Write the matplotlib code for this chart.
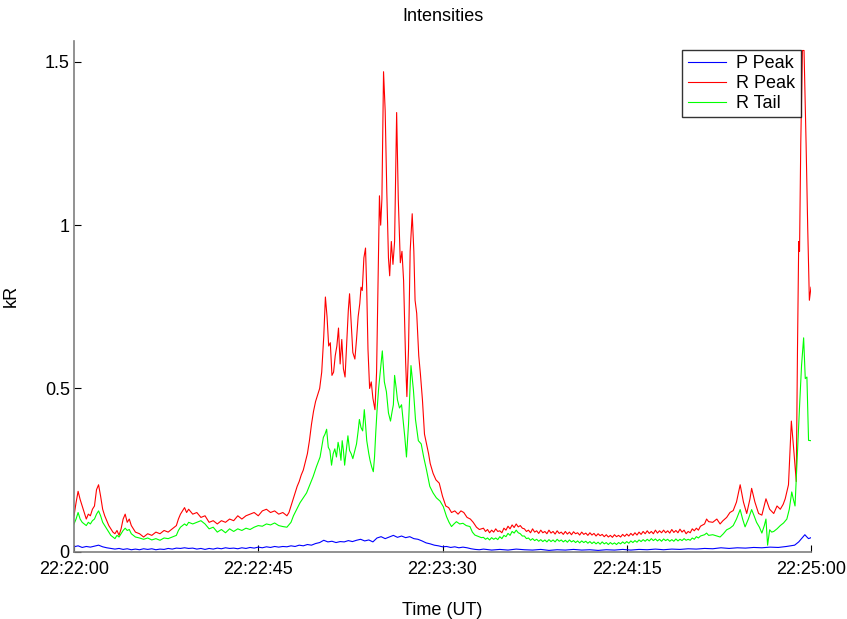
import matplotlib
matplotlib.use("Agg")
import matplotlib.pyplot as plt

plt.rcParams['font.family'] = ['Liberation Sans', 'DejaVu Sans']

# seconds after 22:22:00
red_t = [0, 0.5, 1, 1.5, 2, 2.5, 3, 3.5, 4, 4.5, 5, 5.5, 6, 6.5, 7, 7.5, 8, 8.5, 9, 9.5,
         10, 10.5, 11, 11.5, 12, 12.5, 13, 13.5, 14, 14.5, 15, 16, 17, 18, 19, 20, 21, 22, 23, 24,
         25, 25.5, 26, 27, 27.5, 28, 29, 30, 31, 32, 33, 34, 35, 36, 37, 38, 39, 40, 41, 42,
         43, 44, 45, 46, 47, 48, 49, 50, 51, 52, 52.5, 53, 53.5, 54, 54.5, 55, 55.5, 56, 56.5, 57,
         57.5, 58, 58.5, 59, 59.5, 60, 60.5, 61, 61.4, 61.8, 62.2, 62.6, 63, 63.4, 63.8, 64.2, 64.6, 65, 65.4, 65.8,
         66.2, 66.6, 67, 67.3, 67.7, 68.1, 68.6, 69, 69.4, 69.8, 70.1, 70.4, 70.8, 71.2, 71.5, 71.8, 72.2, 72.6, 73, 73.5,
         73.9, 74.3, 74.6, 74.9, 75.2, 75.6, 76, 76.4, 76.8, 77.1, 77.5, 77.9, 78.3, 78.8, 79.2, 79.7, 80.1, 80.5, 81, 81.3,
         81.7, 82.1, 82.6, 83, 83.3, 83.7, 84.2, 84.6, 85.1, 85.6, 86.1, 86.6, 87, 87.7, 88.4, 89.2, 90, 90.8, 91.5, 92.2,
         93, 93.8, 94.5, 95.2, 96, 96.8, 97.5, 98.3, 99,
         100, 100.5, 101, 101.5, 102, 102.5, 103, 103.5, 104, 104.5, 105, 105.5, 106, 106.5, 107, 107.5, 108, 108.5, 109, 109.5,
         110, 110.5, 111, 111.5, 112, 112.5, 113, 113.5, 114, 114.5, 115, 115.5, 116, 116.5, 117, 117.5, 118, 118.5, 119, 119.5,
         120, 120.5, 121, 121.5, 122, 122.5, 123, 123.5, 124, 124.5, 125, 125.5, 126, 126.5, 127, 127.5, 128, 128.5, 129, 129.5,
         130, 130.5, 131, 131.5, 132, 132.5, 133, 133.5, 134, 134.5, 135, 135.5, 136, 136.5, 137, 137.5, 138, 138.5, 139, 139.5,
         140, 140.5, 141, 141.5, 142, 142.5, 143, 143.5, 144, 144.5, 145, 145.5, 146, 146.5, 147, 147.5, 148, 148.5, 149, 149.5,
         150, 150.5, 151, 151.5, 152, 152.5, 153,
         154, 154.5, 155, 156, 157, 157.8, 158.5, 159.4, 160.2, 161, 161.8, 162.7, 163.5, 164.3, 165.1, 165.5, 166.3,
         167.2, 168, 169, 169.9, 170.9, 171.7, 172.5, 173.2, 173.7, 174.5, 175.2, 175.8, 176.4, 176.7, 177, 177.2, 177.5, 177.9, 178.3, 178.8,
         179.2, 179.6, 180]
red_v = [0.11, 0.15, 0.185, 0.16, 0.14, 0.12, 0.10, 0.115, 0.11, 0.13, 0.14, 0.19, 0.205, 0.17, 0.13, 0.11, 0.095, 0.08, 0.07, 0.06,
         0.055, 0.065, 0.05, 0.07, 0.10, 0.115, 0.09, 0.10, 0.08, 0.07, 0.06, 0.055, 0.045, 0.055, 0.05, 0.06, 0.055, 0.065, 0.06, 0.07,
         0.08, 0.10, 0.115, 0.135, 0.12, 0.13, 0.115, 0.12, 0.105, 0.11, 0.09, 0.095, 0.085, 0.095, 0.09, 0.10, 0.095, 0.11, 0.10, 0.11,
         0.115, 0.12, 0.11, 0.125, 0.13, 0.12, 0.125, 0.115, 0.12, 0.11, 0.12, 0.14, 0.16, 0.18, 0.20, 0.215, 0.235, 0.25, 0.275, 0.30,
         0.34, 0.39, 0.43, 0.46, 0.48, 0.50, 0.55, 0.66, 0.78, 0.72, 0.63, 0.64, 0.54, 0.55, 0.60, 0.63, 0.685, 0.575, 0.65, 0.56,
         0.535, 0.64, 0.74, 0.79, 0.70, 0.61, 0.59, 0.65, 0.72, 0.76, 0.81, 0.80, 0.90, 0.93, 0.80, 0.62, 0.50, 0.52, 0.47, 0.435,
         0.55, 0.85, 1.09, 1.00, 1.08, 1.47, 1.35, 1.10, 0.90, 0.845, 0.95, 0.88, 0.95, 1.345, 1.08, 0.885, 0.92, 0.83, 0.58, 0.475,
         0.62, 0.92, 1.035, 0.92, 0.77, 0.73, 0.60, 0.545, 0.465, 0.36, 0.33, 0.30, 0.27, 0.24, 0.22, 0.21, 0.17, 0.14, 0.135, 0.12,
         0.125, 0.115, 0.125, 0.12, 0.105, 0.10, 0.09, 0.075, 0.068,
         0.072, 0.062, 0.068, 0.058, 0.066, 0.06, 0.07, 0.062, 0.064, 0.058, 0.072, 0.066, 0.078, 0.07, 0.082, 0.074, 0.085, 0.076, 0.08, 0.072,
         0.07, 0.062, 0.066, 0.058, 0.07, 0.06, 0.064, 0.056, 0.066, 0.058, 0.062, 0.055, 0.066, 0.057, 0.062, 0.054, 0.064, 0.056, 0.06, 0.053,
         0.062, 0.054, 0.06, 0.052, 0.061, 0.055, 0.058, 0.051, 0.06, 0.053, 0.057, 0.05, 0.058, 0.051, 0.056, 0.048, 0.055, 0.049, 0.053, 0.046,
         0.052, 0.045, 0.05, 0.044, 0.052, 0.046, 0.05, 0.045, 0.053, 0.047, 0.054, 0.048, 0.056, 0.05, 0.058, 0.051, 0.06, 0.053, 0.062, 0.055,
         0.064, 0.056, 0.062, 0.055, 0.066, 0.057, 0.064, 0.058, 0.066, 0.058, 0.064, 0.057, 0.068, 0.059, 0.065, 0.058, 0.069, 0.06, 0.066, 0.055,
         0.062, 0.058, 0.07, 0.064, 0.072, 0.066, 0.078,
         0.085, 0.10, 0.092, 0.09, 0.10, 0.085, 0.095, 0.105, 0.12, 0.126, 0.152, 0.205, 0.152, 0.117, 0.162, 0.194, 0.152,
         0.117, 0.112, 0.162, 0.13, 0.117, 0.14, 0.13, 0.145, 0.162, 0.205, 0.40, 0.31, 0.215, 0.62, 0.95, 0.92, 1.25, 1.535, 1.535, 1.25,
         0.99, 0.77, 0.81]

green_t = [0, 0.5, 1, 1.5, 2, 2.5, 3, 3.5, 4, 4.5, 5, 5.5, 6, 6.5, 7, 7.5, 8, 8.5, 9, 9.5,
           10, 10.5, 11, 11.5, 12, 12.5, 13, 13.5, 14, 14.5, 15, 16, 17, 18, 19, 20, 21, 22, 23, 24,
           25, 25.5, 26, 27, 27.5, 28, 29, 30, 31, 32, 33, 34, 35, 36, 37, 38, 39, 40, 41, 42,
           43, 44, 45, 46, 47, 48, 49, 50, 51, 52, 53, 53.6, 54.2, 55.2, 56, 56.8, 57.6, 58.4, 59.2, 60.1,
           60.5, 60.9, 61.3, 61.7, 62.1, 62.5, 62.9, 63.3, 63.7, 64.1, 64.5, 64.9, 65.2, 65.5, 65.8, 66.1, 66.5, 66.9, 67.3, 67.7,
           68.1, 68.6, 69, 69.4, 69.7, 70.1, 70.5, 70.9, 71.2, 71.5, 72, 72.3, 72.7, 73.1, 73.4, 73.7, 74, 74.4, 74.8, 75.3,
           75.8, 76.3, 76.8, 77.3, 77.7, 78, 78.3, 78.7, 79, 79.5, 80, 80.4, 80.8, 81.2, 81.7, 82.3, 82.9, 83.4, 84.1, 84.8,
           85.4, 86.1, 86.9, 87.7, 88.5, 89.4, 90.2, 91, 91.6, 92.2, 92.8, 93.4, 94.2, 95, 95.8, 96.7, 97.3, 97.9, 98.9, 99.5,
           100, 100.5, 101, 101.5, 102, 102.5, 103, 103.5, 104, 104.5, 105, 105.5, 106, 106.5, 107, 107.5, 108, 108.5, 109, 109.5,
           110, 110.5, 111, 111.5, 112, 112.5, 113, 113.5, 114, 114.5, 115, 115.5, 116, 116.5, 117, 117.5, 118, 118.5, 119, 119.5,
           120, 120.5, 121, 121.5, 122, 122.5, 123, 123.5, 124, 124.5, 125, 125.5, 126, 126.5, 127, 127.5, 128, 128.5, 129, 129.5,
           130, 130.5, 131, 131.5, 132, 132.5, 133, 133.5, 134, 134.5, 135, 135.5, 136, 136.5, 137, 137.5, 138, 138.5, 139, 139.5,
           140, 140.5, 141, 141.5, 142, 142.5, 143, 143.5, 144, 144.5, 145, 145.5, 146, 146.5, 147, 147.5, 148, 148.5, 149, 149.5,
           150, 150.5, 151, 151.5, 152, 152.5, 153,
           154, 154.5, 155, 156, 157, 157.8, 158.6,
           159.4, 160.2, 161, 161.8, 162.7, 163.3, 163.9, 164.7, 165.5, 166.1, 166.7, 167.4, 168, 168.6, 169, 169.4, 169.9, 170.4, 170.9, 171.7,
           172.5, 173.3, 174.1, 174.7, 175.3, 175.7, 176.1, 176.7, 177.2, 177.7, 178.2, 178.6, 179, 179.4, 180]
green_v = [0.085, 0.10, 0.12, 0.10, 0.09, 0.085, 0.08, 0.09, 0.085, 0.095, 0.10, 0.115, 0.125, 0.11, 0.09, 0.08, 0.07, 0.06, 0.05, 0.045,
           0.04, 0.05, 0.045, 0.055, 0.065, 0.072, 0.065, 0.068, 0.055, 0.05, 0.045, 0.042, 0.038, 0.042, 0.036, 0.04, 0.035, 0.042, 0.04, 0.045,
           0.05, 0.065, 0.075, 0.085, 0.08, 0.09, 0.085, 0.09, 0.095, 0.085, 0.07, 0.075, 0.06, 0.068, 0.058, 0.07, 0.062, 0.07, 0.065, 0.072,
           0.068, 0.075, 0.08, 0.078, 0.085, 0.082, 0.088, 0.08, 0.077, 0.075, 0.09, 0.11, 0.125, 0.15, 0.165, 0.18, 0.205, 0.23, 0.26, 0.29,
           0.32, 0.35, 0.36, 0.375, 0.32, 0.31, 0.265, 0.30, 0.315, 0.29, 0.335, 0.31, 0.28, 0.34, 0.31, 0.265, 0.31, 0.355, 0.31, 0.30,
           0.285, 0.31, 0.33, 0.37, 0.405, 0.38, 0.37, 0.435, 0.39, 0.34, 0.30, 0.28, 0.26, 0.245, 0.29, 0.365, 0.43, 0.50, 0.55, 0.615,
           0.52, 0.49, 0.425, 0.40, 0.43, 0.45, 0.54, 0.50, 0.465, 0.44, 0.45, 0.40, 0.35, 0.29, 0.39, 0.57, 0.495, 0.405, 0.34, 0.33,
           0.29, 0.25, 0.20, 0.18, 0.165, 0.155, 0.138, 0.107, 0.09, 0.077, 0.085, 0.092, 0.085, 0.087, 0.08, 0.077, 0.06, 0.051, 0.046, 0.043,
           0.044, 0.038, 0.042, 0.036, 0.043, 0.038, 0.042, 0.037, 0.046, 0.04, 0.05, 0.046, 0.056, 0.05, 0.062, 0.057, 0.066, 0.058, 0.055, 0.048,
           0.048, 0.04, 0.042, 0.035, 0.04, 0.034, 0.038, 0.032, 0.037, 0.031, 0.036, 0.03, 0.037, 0.031, 0.036, 0.03, 0.038, 0.032, 0.036, 0.03,
           0.035, 0.029, 0.036, 0.03, 0.034, 0.028, 0.033, 0.027, 0.033, 0.028, 0.032, 0.026, 0.031, 0.025, 0.03, 0.024, 0.029, 0.023, 0.03, 0.024,
           0.028, 0.022, 0.028, 0.023, 0.027, 0.022, 0.028, 0.024, 0.03, 0.025, 0.031, 0.026, 0.033, 0.028, 0.034, 0.029, 0.036, 0.031, 0.037, 0.032,
           0.038, 0.033, 0.04, 0.034, 0.039, 0.033, 0.038, 0.032, 0.039, 0.034, 0.038, 0.032, 0.037, 0.032, 0.039, 0.033, 0.038, 0.034, 0.04, 0.035,
           0.038, 0.035, 0.042, 0.038, 0.046, 0.042, 0.048,
           0.052, 0.057, 0.05, 0.052, 0.048, 0.045, 0.055,
           0.067, 0.072, 0.08, 0.10, 0.129, 0.10, 0.076, 0.10, 0.129, 0.11, 0.09, 0.075, 0.057, 0.08, 0.10, 0.02, 0.067, 0.06, 0.062, 0.07,
           0.08, 0.088, 0.10, 0.13, 0.183, 0.16, 0.14, 0.307, 0.444, 0.572, 0.655, 0.53, 0.535, 0.341, 0.34]

blue_t = [0, 1, 2, 3, 4, 5, 6, 7, 8, 9, 10, 11, 12, 13, 14, 15, 16, 17, 18, 19,
          20, 21, 22, 23, 24, 25, 26, 27, 28, 29, 30, 31, 32, 33, 34, 35, 36, 37, 38, 39,
          40, 41, 42, 43, 44, 45, 46, 47, 48, 49, 50, 51, 52, 53, 54, 55, 56, 57, 58, 59,
          60, 61, 62, 63, 64, 65, 66, 67, 68, 69, 70, 71, 72, 73, 74, 75, 76, 77, 78, 79,
          80, 81, 82, 83, 84, 85, 86, 87, 88, 89, 90, 91, 92, 93, 94, 95, 96, 97, 98, 99,
          100, 102, 104, 106, 108, 110, 112, 114, 116, 118, 120, 122, 124, 126, 128, 130, 132, 134, 136, 138,
          140, 142, 144, 146, 148, 150, 152, 154, 156, 158, 160, 162, 164, 166, 168, 170, 172, 174, 175, 176,
          177, 177.8, 178.5, 179, 179.4, 180]
blue_v = [0.015, 0.018, 0.013, 0.016, 0.014, 0.017, 0.02, 0.015, 0.012, 0.01, 0.008, 0.01, 0.007, 0.009, 0.006, 0.008, 0.006, 0.009, 0.007, 0.009,
          0.006, 0.008, 0.007, 0.01, 0.008, 0.011, 0.01, 0.012, 0.01, 0.011, 0.008, 0.01, 0.007, 0.01, 0.008, 0.011, 0.009, 0.012, 0.01, 0.011,
          0.009, 0.012, 0.01, 0.013, 0.011, 0.014, 0.012, 0.015, 0.013, 0.016, 0.014, 0.016, 0.015, 0.018, 0.016, 0.02, 0.018, 0.022, 0.02, 0.025,
          0.028, 0.035, 0.03, 0.032, 0.028, 0.031, 0.03, 0.034, 0.031, 0.035, 0.038, 0.033, 0.036, 0.03, 0.042, 0.046, 0.04, 0.045, 0.05, 0.044,
          0.048, 0.043, 0.046, 0.04, 0.038, 0.033, 0.027, 0.024, 0.02, 0.018, 0.015, 0.016, 0.013, 0.015, 0.012, 0.014, 0.012, 0.009, 0.007, 0.006,
          0.008, 0.005, 0.007, 0.005, 0.008, 0.006, 0.005, 0.007, 0.004, 0.006, 0.005, 0.007, 0.005, 0.006, 0.004, 0.006, 0.005, 0.007, 0.005, 0.007,
          0.006, 0.008, 0.006, 0.008, 0.007, 0.009, 0.008, 0.01, 0.009, 0.012, 0.01, 0.012, 0.011, 0.013, 0.012, 0.014, 0.013, 0.016, 0.018, 0.02,
          0.03, 0.042, 0.052, 0.045, 0.04, 0.043]

tick_pos = [0, 45, 90, 135, 180]
tick_labels = ['22:22:00', '22:22:45', '22:23:30', '22:24:15', '22:25:00']
ytick_pos = [0, 0.5, 1, 1.5]
ytick_labels = ['0', '0.5', '1', '1.5']

fig = plt.figure(figsize=(8.47, 6.19), dpi=100)
ax = fig.add_axes([74/847, 1 - 551.7/619, (811 - 74)/847, (551.7 - 40.7)/619])

lw = 0.8
ax.plot(blue_t, blue_v, color='#0000ff', lw=lw, label='P Peak')
ax.plot(red_t, red_v, color='#ff0000', lw=lw, label='R Peak')
ax.plot(green_t, green_v, color='#00ff00', lw=lw, label='R Tail')

ax.set_xlim(0, 180)
ax.set_ylim(0, 1.565)
ax.set_xticks(tick_pos)
ax.set_xticklabels(tick_labels)
ax.set_yticks(ytick_pos)
ax.set_yticklabels(ytick_labels)
ax.tick_params(direction='in', length=5, width=0.8, labelsize=13, color='black')
ax.tick_params(axis='x', pad=7)
ax.tick_params(axis='y', pad=3)
for s in ['top', 'right']:
    ax.spines[s].set_visible(False)
for s in ['left', 'bottom']:
    ax.spines[s].set_color('#7f7f7f')
    ax.spines[s].set_linewidth(1.2)

ax.set_title('Intensities', fontsize=13, pad=14)
ax.set_xlabel('Time (UT)', fontsize=13, labelpad=17)
ax.set_ylabel('kR', fontsize=13, labelpad=18)

leg = ax.legend(loc='upper right', bbox_to_anchor=(801/847, 1 - 50/619), bbox_transform=fig.transFigure,
                fontsize=13, frameon=True, fancybox=False, handlelength=2.1, handletextpad=0.6,
                borderpad=0.3, labelspacing=0.15, borderaxespad=0)
leg.get_frame().set_edgecolor('black')
leg.get_frame().set_linewidth(1.0)

fig.savefig('out.png', dpi=100)
